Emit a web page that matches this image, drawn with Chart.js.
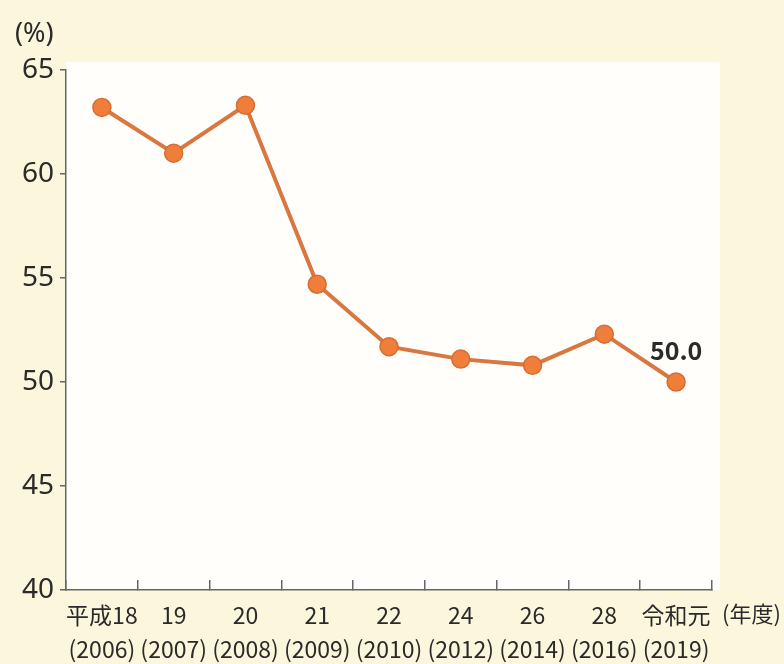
<!DOCTYPE html>
<html><head><meta charset="utf-8">
<script src="https://cdn.jsdelivr.net/npm/chart.js@4"></script>
<style>html,body{margin:0;padding:0;background:#FBF6DC;}</style>
</head><body>
<canvas id="c" width="784" height="664"></canvas>
<script>
const eraLabels = ['平成18', '19', '20', '21', '22', '24', '26', '28', '令和元'];
const yearLabels = ['(2006)', '(2007)', '(2008)', '(2009)', '(2010)', '(2012)', '(2014)', '(2016)', '(2019)'];
const rates = [63.2, 61.0, 63.3, 54.7, 51.7, 51.1, 50.8, 52.3, 50.0];
const yMin = 40, yMax = 65, yStep = 5;
const yUnit = '(%)';
const xUnit = '(年度)';
const lastValueLabel = '50.0';

const xFont = "'Noto Sans CJK JP', sans-serif";
const yFont = "'Noto Sans', sans-serif";

const decor = {
  id: 'decor',
  beforeDraw(chart) {
    const {ctx, chartArea: a} = chart;
    ctx.save();
    ctx.fillStyle = '#FFFEFA';
    ctx.fillRect(a.left, a.top - 8, a.right - a.left + 8, a.bottom - a.top + 8);
    ctx.restore();
  },
  afterDraw(chart) {
    const {ctx} = chart;
    const xs = chart.scales.x;
    ctx.save();
    ctx.fillStyle = '#2a2a2a';
    ctx.textBaseline = 'middle';
    ctx.textAlign = 'left';
    ctx.font = "27px " + yFont;
    ctx.fillText(yUnit, 15, 34);
    ctx.font = "22px " + xFont;
    ctx.fillText(xUnit, xs.right + 10, 614);
    const meta = chart.getDatasetMeta(0);
    const p = meta.data[meta.data.length - 1];
    ctx.textAlign = 'center';
    ctx.font = "bold 25px " + xFont;
    ctx.fillText(lastValueLabel, p.x, p.y - 32);
    ctx.restore();
  }
};

new Chart(document.getElementById('c'), {
  type: 'line',
  data: {
    labels: eraLabels.map((e, i) => [e, yearLabels[i]]),
    datasets: [{
      data: rates,
      borderColor: '#D8773F',
      borderWidth: 4,
      pointRadius: 9,
      pointBackgroundColor: '#EE7E3A',
      pointBorderColor: '#D56E36',
      pointBorderWidth: 1.5,
      tension: 0
    }]
  },
  options: {
    responsive: false,
    animation: false,
    devicePixelRatio: 1,
    layout: {padding: {top: 70, right: 72, left: 0, bottom: 0}},
    plugins: {legend: {display: false}, tooltip: {enabled: false}},
    scales: {
      x: {
        type: 'category',
        offset: true,
        grid: {offset: true, drawOnChartArea: false, tickLength: -10, color: '#666', lineWidth: 1.5},
        border: {color: '#666', width: 1.5},
        ticks: {font: {family: xFont, size: 23, lineHeight: 1.48}, color: '#2a2a2a', padding: 18, maxRotation: 0, autoSkip: false},
        afterFit(s) { s.height = 74; }
      },
      y: {
        min: yMin, max: yMax,
        grid: {drawOnChartArea: false, tickLength: 6, color: '#666', lineWidth: 1.5},
        border: {color: '#666', width: 1.5},
        ticks: {stepSize: yStep, font: {family: yFont, size: 28}, color: '#2a2a2a', padding: 6},
        afterFit(s) { s.width = 66; }
      }
    }
  },
  plugins: [decor]
});
</script>
</body></html>
